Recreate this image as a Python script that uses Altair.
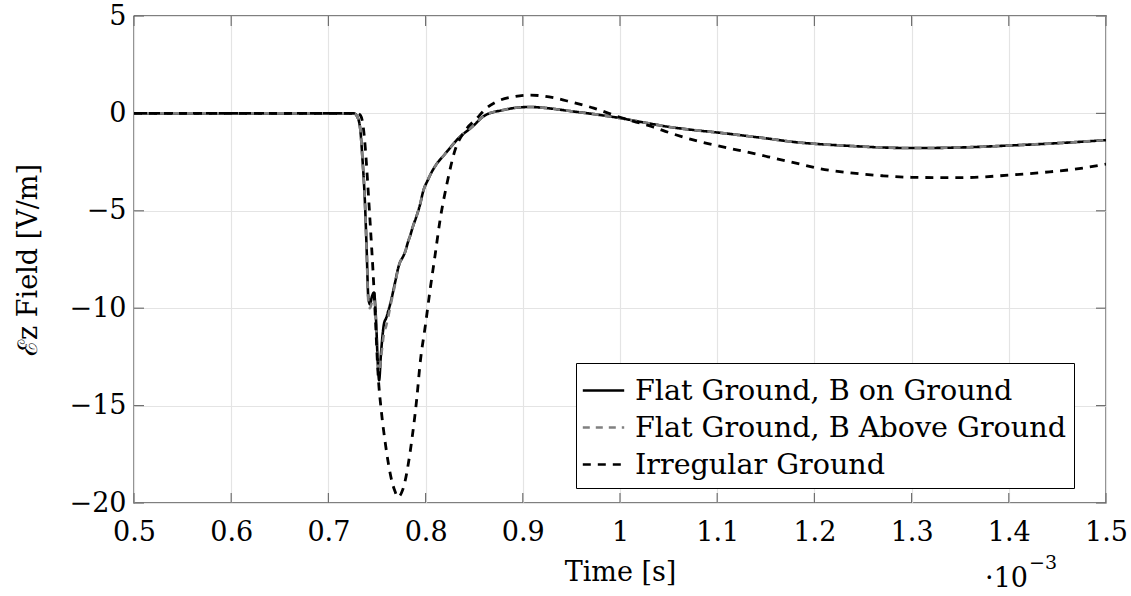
import altair as alt
import pandas as pd

# ---------------- data (time in units of 1e-3 s, field in V/m) ----------------
series_names = ["Flat Ground, B on Ground", "Flat Ground, B Above Ground", "Irregular Ground"]

t_flat = [0.500, 0.600, 0.700, 0.7265, 0.7295, 0.7325, 0.7350, 0.7377, 0.7395, 0.7410,
          0.7428, 0.7448, 0.7469, 0.7490, 0.7510, 0.7522, 0.7540, 0.7572, 0.7595, 0.7613,
          0.7650, 0.7685, 0.7720, 0.7740, 0.7757, 0.7790, 0.7819, 0.7840, 0.7870, 0.7905,
          0.7942, 0.7975, 0.8025, 0.8075, 0.8128, 0.8180, 0.8230, 0.8333, 0.8477, 0.8611,
          0.8796, 0.8950, 0.9074, 0.9250, 0.9486, 0.9750, 1.0000, 1.0250, 1.0514, 1.0750,
          1.1000, 1.1500, 1.1850, 1.2000, 1.2370, 1.2700, 1.3000, 1.3500, 1.4000, 1.4420,
          1.4700, 1.5000]
v_flat = [0.0, 0.0, 0.0, 0.0, -0.15, -0.7, -2.3, -4.7, -7.2, -9.4,
          -9.8, -9.4, -9.2, -10.6, -13.0, -13.7, -12.4, -10.8, -10.5, -10.2,
          -9.5, -8.7, -7.9, -7.6, -7.45, -7.1, -6.6, -6.3, -5.8, -5.3,
          -4.7, -4.0, -3.4, -2.9, -2.5, -2.2, -1.9, -1.3, -0.7, -0.1,
          0.17, 0.3, 0.33, 0.27, 0.12, -0.05, -0.24, -0.47, -0.7, -0.85,
          -0.98, -1.28, -1.5, -1.56, -1.67, -1.75, -1.78, -1.75, -1.65, -1.55,
          -1.47, -1.37]
v_above = [0.0, 0.0, 0.0, 0.0, -0.15, -0.7, -2.3, -4.7, -7.3, -9.6,
           -10.0, -9.7, -9.5, -10.8, -12.8, -13.3, -12.6, -11.3, -10.9, -10.5,
           -9.6, -8.8, -7.9, -7.6, -7.45, -7.1, -6.6, -6.3, -5.8, -5.3,
           -4.7, -4.0, -3.4, -2.9, -2.5, -2.2, -1.9, -1.3, -0.7, -0.1,
           0.17, 0.3, 0.33, 0.27, 0.12, -0.05, -0.24, -0.47, -0.7, -0.85,
           -0.98, -1.28, -1.5, -1.56, -1.67, -1.75, -1.78, -1.75, -1.65, -1.55,
           -1.47, -1.37]

t_irr = [0.500, 0.600, 0.700, 0.7300, 0.7330, 0.7356, 0.7380, 0.7407, 0.7433, 0.7459,
         0.7485, 0.7510, 0.7545, 0.7582, 0.7618, 0.7654, 0.7685, 0.7716, 0.7750, 0.7788,
         0.7825, 0.7860, 0.7912, 0.7942, 0.8000, 0.8045, 0.8097, 0.8148, 0.8220, 0.8302,
         0.8405, 0.8529, 0.8611, 0.8730, 0.8900, 0.9074, 0.9320, 0.9486, 0.9730, 1.0000,
         1.0340, 1.0514, 1.0820, 1.1000, 1.1500, 1.1850, 1.2000, 1.2370, 1.2700, 1.3000,
         1.3500, 1.4000, 1.4420, 1.4700, 1.5000]
v_irr = [0.0, 0.0, 0.0, 0.0, -0.1, -0.6, -1.8, -3.8, -5.9, -8.1,
         -10.7, -13.3, -15.3, -16.8, -18.0, -18.9, -19.4, -19.7, -19.5, -18.9,
         -17.9, -16.7, -14.5, -12.9, -10.8, -9.1, -7.3, -5.5, -3.6, -1.9,
         -0.9, -0.25, 0.2, 0.6, 0.85, 0.94, 0.8, 0.6, 0.27, -0.2,
         -0.7, -1.0, -1.45, -1.65, -2.2, -2.6, -2.78, -3.05, -3.2, -3.28,
         -3.3, -3.17, -3.0, -2.85, -2.6]

x_ticks = [0.5, 0.6, 0.7, 0.8, 0.9, 1.0, 1.1, 1.2, 1.3, 1.4, 1.5]
y_ticks = [-20, -15, -10, -5, 0, 5]
x_title = "Time [s]"
y_title = "ℰz Field [V/m]"
exp_base = "·10"
exp_power = "−3"

# ---------------- build tables ----------------
rows = []
for t, v in zip(t_flat, v_flat):
    rows.append({"t": t, "v": v, "s": series_names[0]})
for t, v in zip(t_flat, v_above):
    rows.append({"t": t, "v": v, "s": series_names[1]})
for t, v in zip(t_irr, v_irr):
    rows.append({"t": t, "v": v, "s": series_names[2]})
df = pd.DataFrame(rows)
xt = pd.DataFrame({"t": x_ticks})
yt = pd.DataFrame({"v": y_ticks})

W, H = 972, 487
FONT = "DejaVu Serif"
FS = 27

xscale = alt.Scale(domain=[0.5, 1.5], nice=False, zero=False)
yscale = alt.Scale(domain=[-20, 5], nice=False, zero=False)

legend_def = alt.Legend(
    orient="none", legendX=442, legendY=347, title=None, direction="vertical",
    symbolType="M-1.15,0H1.15", symbolSize=1296, symbolStrokeWidth=2.6,
    labelFont=FONT, labelFontSize=28.6, labelColor="black", labelOffset=12,
    labelLimit=700, strokeColor="black", fillColor="white", padding=8, rowPadding=2,
)
color = alt.Color("s:N", scale=alt.Scale(domain=series_names, range=["#000000", "#808080", "#000000"]),
                  legend=legend_def)
dash = alt.StrokeDash("s:N", scale=alt.Scale(domain=series_names, range=[[1, 0], [7, 6], [8, 7]]),
                      legend=legend_def)

x_enc = alt.X("t:Q", scale=xscale, axis=alt.Axis(
    values=x_ticks, format=".1~f", title=x_title, titleX=W / 2, titleY=69,
    titleBaseline="middle", titleAlign="center", labelPadding=16,
    labelFlush=False, labelOverlap=False, labelBound=False))
y_enc = alt.Y("v:Q", scale=yscale, axis=alt.Axis(
    values=y_ticks, format="d", title=y_title, titleX=-106, titleY=H / 2, titleAngle=270,
    titleBaseline="middle", titleAlign="center", labelPadding=8,
    labelFlush=False, labelOverlap=False, labelBound=False))

def series_layer(name, width):
    return alt.Chart(df).transform_filter(alt.datum.s == name).mark_line(
        strokeWidth=width, interpolate="monotone", clip=True
    ).encode(x=x_enc, y=y_enc, color=color, strokeDash=dash)

tick_style = dict(color="#707070", strokeWidth=1.2)
bt = alt.Chart(xt).mark_rule(**tick_style).encode(x=alt.X("t:Q", scale=xscale), y=alt.value(H), y2=alt.value(H - 10))
tt = alt.Chart(xt).mark_rule(**tick_style).encode(x=alt.X("t:Q", scale=xscale), y=alt.value(0), y2=alt.value(10))
lt = alt.Chart(yt).mark_rule(**tick_style).encode(y=alt.Y("v:Q", scale=yscale), x=alt.value(0), x2=alt.value(10))
rt = alt.Chart(yt).mark_rule(**tick_style).encode(y=alt.Y("v:Q", scale=yscale), x=alt.value(W - 10), x2=alt.value(W))

e1 = alt.Chart(pd.DataFrame({"s": [exp_base]})).mark_text(
    font=FONT, fontSize=FS, align="right", baseline="middle", color="black"
).encode(text="s:N", x=alt.value(894), y=alt.value(563))
e2 = alt.Chart(pd.DataFrame({"s": [exp_power]})).mark_text(
    font=FONT, fontSize=19, align="left", baseline="middle", color="black"
).encode(text="s:N", x=alt.value(895), y=alt.value(547))

chart = alt.layer(
    bt, tt, lt, rt,
    series_layer(series_names[0], 2.6),
    series_layer(series_names[1], 2.6),
    series_layer(series_names[2], 2.8),
    e1, e2,
).properties(
    width=W, height=H,
    autosize=alt.AutoSizeParams(type="none"),
    padding={"left": 134, "top": 16, "right": 25, "bottom": 93},
    background="white",
).configure_view(
    stroke="black", strokeWidth=1.3
).configure_axis(
    domain=False, ticks=False, grid=True, gridColor="#e4e4e4", gridWidth=1.2,
    labelFont=FONT, labelFontSize=FS, labelColor="black",
    titleFont=FONT, titleFontSize=FS, titleColor="black", titleFontWeight="normal",
)

chart.save("out.html", embed_options={"renderer": "svg", "actions": False})
